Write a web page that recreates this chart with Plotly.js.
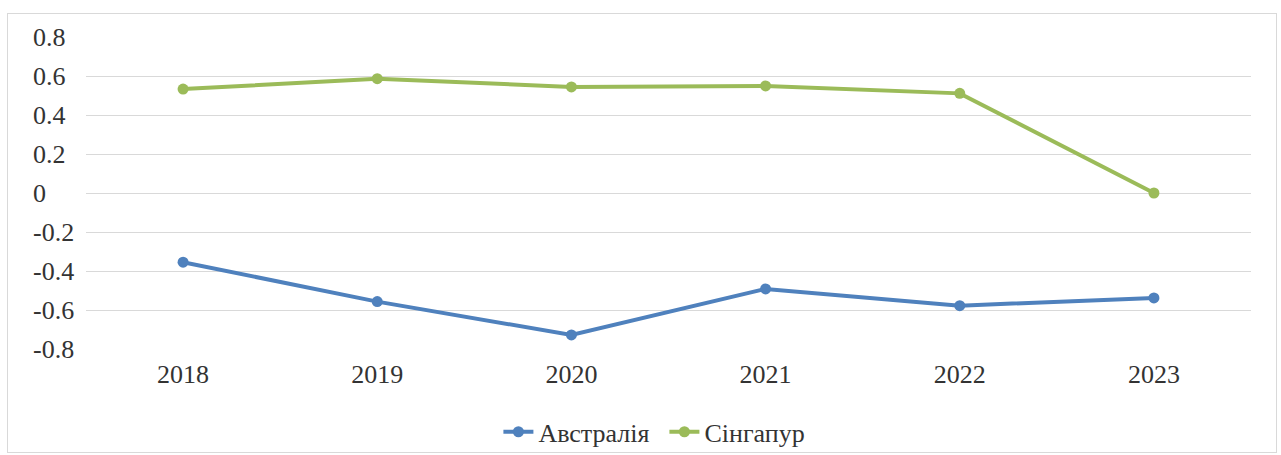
<!DOCTYPE html>
<html>
<head>
<meta charset="utf-8">
<script src="https://cdn.plot.ly/plotly-3.0.1.min.js"></script>
<style>
  html, body { margin: 0; padding: 0; background: #ffffff; }
  #frame { position: absolute; left: 7px; top: 13px; border: 1px solid #d9d9d9; }
  #chart { width: 1268px; height: 438px; }
</style>
</head>
<body>
<div id="frame"><div id="chart"></div></div>
<script>
// Years on the category axis
const years = ['2018', '2019', '2020', '2021', '2022', '2023'];
// Series values
const australia = [-0.355, -0.557, -0.728, -0.492, -0.578, -0.538];
const singapore = [0.533, 0.586, 0.544, 0.549, 0.511, 0.0];
// Y tick values and labels
const yTicks = [-0.8, -0.6, -0.4, -0.2, 0, 0.2, 0.4, 0.6, 0.8];
const yTickText = ['-0.8', '-0.6', '-0.4', '-0.2', '0', '0.2', '0.4', '0.6', '0.8'];

const font = { family: '"Liberation Serif", "Times New Roman", serif', size: 26, color: '#333333' };

const traces = [
  {
    x: years, y: australia, name: 'Австралія', type: 'scatter', mode: 'lines+markers',
    line: { color: '#4F81BD', width: 4 },
    marker: { color: '#4F81BD', size: 11 }
  },
  {
    x: years, y: singapore, name: 'Сінгапур', type: 'scatter', mode: 'lines+markers',
    line: { color: '#9BBB59', width: 4 },
    marker: { color: '#9BBB59', size: 11 }
  }
];

// Left-aligned value labels for the y axis, placed at the tick values
const yLabels = yTicks.map((v, i) => ({
  xref: 'paper', yref: 'y', x: -0.0475, y: v,
  xanchor: 'left', yanchor: 'middle', showarrow: false,
  text: yTickText[i], font: font
}));

const layout = {
  width: 1268, height: 438,
  margin: { l: 78, r: 25, t: 23, b: 103, autoexpand: false },
  paper_bgcolor: '#ffffff', plot_bgcolor: '#ffffff',
  font: font,
  showlegend: true,
  legend: {
    orientation: 'h', x: 0.354, xanchor: 'left',
    yref: 'container', y: 0.046, yanchor: 'middle',
    font: font, itemwidth: 30, entrywidth: 121
  },
  annotations: yLabels,
  xaxis: {
    type: 'category', range: [-0.5, 5.5], automargin: false,
    showgrid: false, zeroline: false, showline: false,
    ticks: '', ticklabelstandoff: 7, tickfont: font, fixedrange: true
  },
  yaxis: {
    range: [-0.8, 0.8], tickvals: yTicks, showticklabels: false, automargin: false,
    showgrid: true, gridcolor: '#d9d9d9', gridwidth: 1,
    zeroline: false, showline: false, ticks: '', fixedrange: true
  }
};

Plotly.newPlot('chart', traces, layout, { displayModeBar: false, staticPlot: true });
</script>
</body>
</html>
